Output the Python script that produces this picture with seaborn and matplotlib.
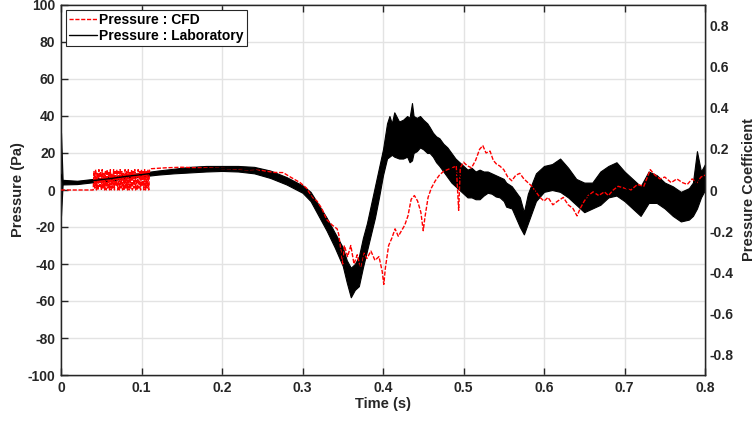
import numpy as np
import pandas as pd
import matplotlib
matplotlib.use("Agg")
import matplotlib.pyplot as plt
import seaborn as sns

# ---------------- data ----------------
# Laboratory pressure: noisy band, lower / upper envelope (Pa)
lab_t = [0.000, 0.002, 0.020, 0.040, 0.060, 0.080, 0.100, 0.120, 0.140, 0.160,
         0.180, 0.200, 0.220, 0.240, 0.260, 0.280, 0.300, 0.310, 0.320, 0.330,
         0.340, 0.350, 0.355, 0.360, 0.365, 0.370, 0.375, 0.380, 0.385, 0.390,
         0.395, 0.400, 0.405, 0.408, 0.411, 0.414, 0.420, 0.425, 0.430, 0.433,
         0.436, 0.438, 0.442, 0.446, 0.450, 0.455, 0.458, 0.462, 0.466, 0.470,
         0.475, 0.480, 0.485, 0.490, 0.495, 0.500, 0.505, 0.510, 0.515, 0.520,
         0.525, 0.530, 0.535, 0.540, 0.545, 0.550, 0.553, 0.560,
         0.570, 0.575, 0.580, 0.590, 0.600, 0.610, 0.620, 0.630, 0.640, 0.650,
         0.660, 0.670, 0.680, 0.690, 0.700, 0.710, 0.720, 0.730, 0.740, 0.750,
         0.760, 0.770, 0.780, 0.785, 0.790, 0.795, 0.800]
lab_lo = [-14, 3.0, 3.2, 4.2, 5.0, 6.3, 7.3, 8.3, 9.0, 9.5,
          10.0, 10.3, 10.0, 9.0, 6.5, 3.0, -1.5, -6, -14, -22,
          -31, -41, -50, -58, -54, -52, -42, -33, -24, -15,
          -4, 8, 17, 18, 19, 18, 17, 17, 18, 15,
          16, 20, 21, 23, 22, 20, 20, 18, 15, 13,
          10, 7, 4, 2, 0, -2, -4, -4, -5, -5,
          -3, -1.5, -2, -3.5, -4, -6, -9, -10,
          -20, -24, -18, -6, -1, 0, -1, -4, -8, -12,
          -10, -8, -4, -3, -6, -10, -14, -7, -7, -10,
          -14, -17, -16, -14, -10, -4, 0]
lab_hi = [31, 5.5, 5.0, 6.0, 7.2, 8.3, 9.3, 10.5, 11.5, 12.5,
          13.0, 13.0, 13.0, 12.5, 10.5, 7.0, 2.5, -1, -8, -15,
          -23, -31, -38, -42, -40, -36, -26, -18, -8, 2,
          12, 22, 36, 40, 36, 42, 37, 38, 40, 39,
          47, 40, 39, 40, 38, 36, 34, 31, 29, 28,
          25, 23, 20, 17, 15, 13, 11, 12, 10, 11,
          10, 10, 9, 8, 7, 6, 4, 2,
          -4, -12, -2, 9, 13, 14, 17, 12, 6, 4,
          4, 10, 13, 15, 10, 6, 2, 10, 8, 4,
          2, -1, 1, 4, 21, 10, 14]

# CFD pressure (Pa)
cfd_osc = [0, 10, 1, 11, 0, 9, 0, 11, 2, 10, 0, 11, 1, 9, 0, 10, 0, 11, 1, 10,
           0, 11, 0, 9, 1, 11, 0, 10, 2, 11, 0, 10, 0, 11, 1, 10, 0, 9, 0, 11,
           1, 10, 0, 11, 0, 10, 1, 11, 0, 10, 1, 11, 0, 9, 0, 11, 1, 10, 0, 11,
           2, 10, 0, 11, 0, 10, 1, 11, 0, 11]
cfd_osc_t = list(np.linspace(0.040, 0.110, len(cfd_osc)))
cfd_rest_t = [0.112, 0.130, 0.150, 0.170, 0.190, 0.210, 0.230, 0.250, 0.265, 0.276,
              0.285, 0.297, 0.305, 0.312, 0.318, 0.324, 0.330, 0.337, 0.343, 0.345,
              0.350, 0.352, 0.356, 0.360, 0.364, 0.368, 0.372, 0.376, 0.380, 0.385,
              0.390, 0.395, 0.399, 0.401, 0.403, 0.407, 0.411, 0.415, 0.419, 0.423,
              0.427, 0.431, 0.435, 0.439, 0.443, 0.447, 0.450, 0.452, 0.456, 0.460,
              0.465, 0.470, 0.475, 0.480, 0.486, 0.491, 0.494, 0.496, 0.500, 0.505,
              0.510, 0.515, 0.520, 0.524, 0.528, 0.533, 0.537, 0.541, 0.545, 0.550,
              0.555, 0.560, 0.565, 0.570, 0.575, 0.580, 0.585, 0.590, 0.595, 0.600,
              0.605, 0.611, 0.617, 0.624, 0.630, 0.636, 0.641, 0.645, 0.650, 0.655,
              0.661, 0.668, 0.675, 0.680, 0.686, 0.692, 0.700, 0.708, 0.716, 0.724,
              0.732, 0.738, 0.744, 0.750, 0.758, 0.765, 0.772, 0.778, 0.784, 0.790,
              0.795, 0.800]
cfd_rest = [11.5, 12, 12.3, 12, 11.8, 11.5, 11, 10.5, 9.5, 9.4,
            7, 4, 1, -4, -6, -10, -16, -19, -21, -24,
            -40, -30, -36, -30, -40, -35, -42, -34, -37, -33,
            -38, -36, -44, -51, -42, -30, -26, -21, -25, -22,
            -19, -14, -5, -3, -6, -12, -22, -15, -4, 1,
            5, 8, 10, 11, 12, 13, -11, 12, 15, 13,
            12, 16, 22, 24, 20, 21, 16, 14, 13, 11,
            7, 5, 8, 9, 6, 4, 2, -1, -4, -6,
            -4, -8, -6, -4, -8, -10, -14, -10, -6, -3,
            -1, -3, -1, -3, 0, 2, 1, 0, 3, 2,
            11, 8, 6, 7, 4, 6, 4, 3, 6, 4,
            7, 8]
cfd_t = [0.0] + cfd_osc_t + cfd_rest_t
cfd_p = [0.0] + cfd_osc + cfd_rest

x_ticks = [0, 0.1, 0.2, 0.3, 0.4, 0.5, 0.6, 0.7, 0.8]
x_labels = ["0", "0.1", "0.2", "0.3", "0.4", "0.5", "0.6", "0.7", "0.8"]
yl_ticks = [-100, -80, -60, -40, -20, 0, 20, 40, 60, 80, 100]
yr_ticks = [-0.8, -0.6, -0.4, -0.2, 0, 0.2, 0.4, 0.6, 0.8]
yr_labels = ["-0.8", "-0.6", "-0.4", "-0.2", "0", "0.2", "0.4", "0.6", "0.8"]

# ---------------- styling ----------------
sns.set_theme(style="whitegrid")
plt.rcParams["font.family"] = ["Liberation Sans", "DejaVu Sans"]
plt.rcParams["font.weight"] = "bold"
plt.rcParams["axes.unicode_minus"] = False
TXT = "#262626"

fig = plt.figure(figsize=(7.56, 4.23), dpi=100)
ax = fig.add_axes([61 / 756, 48 / 423, 644 / 756, 370 / 423])
ax.set_facecolor("white")

lab_df = pd.DataFrame({"t": lab_t + lab_t, "p": lab_lo + lab_hi})
cfd_df = pd.DataFrame({"t": cfd_t, "p": cfd_p})

sns.lineplot(data=cfd_df, x="t", y="p", ax=ax, color="#ff0000", lw=1.0,
             linestyle=(0, (3, 1.2)), estimator=None, sort=False,
             label="Pressure : CFD", zorder=3)
sns.lineplot(data=lab_df, x="t", y="p", ax=ax, color="black", lw=1.0,
             estimator="mean", errorbar=("pi", 100),
             err_kws={"alpha": 1.0, "linewidth": 0.8, "edgecolor": "black",
                      "facecolor": "black"},
             label="Pressure : Laboratory", zorder=4)

ax.set_xlim(0, 0.8)
ax.set_ylim(-100, 100)
ax.set_xticks(x_ticks)
ax.set_xticklabels(x_labels)
ax.set_yticks(yl_ticks)
ax.set_yticklabels([str(v) for v in yl_ticks])
ax.grid(True, color="#e3e3e3", lw=1.0)
ax.tick_params(axis="both", direction="in", length=5, width=1, colors=TXT,
               labelsize=10, top=True, bottom=True, left=True, right=False,
               labelcolor=TXT, pad=4)
for lab in ax.get_xticklabels() + ax.get_yticklabels():
    lab.set_fontweight("bold")
for s in ax.spines.values():
    s.set_color(TXT)
    s.set_linewidth(1.0)
ax.set_xlabel("Time (s)", fontsize=10.5, fontweight="bold", color=TXT, labelpad=2)
ax.set_ylabel("Pressure (Pa)", fontsize=10.5, fontweight="bold", color=TXT, labelpad=2)

ax2 = ax.twinx()
ax2.set_ylim(-0.9, 0.9)
ax2.set_yticks(yr_ticks)
ax2.set_yticklabels(yr_labels)
ax2.grid(False)
ax2.tick_params(axis="y", direction="in", length=5, width=1, colors=TXT,
                labelsize=10, right=True, left=False, labelcolor=TXT)
for lab in ax2.get_yticklabels():
    lab.set_fontweight("bold")
for s in ax2.spines.values():
    s.set_color(TXT)
    s.set_linewidth(1.0)
ax2.set_ylabel("Pressure Coefficient", fontsize=10.5, fontweight="bold",
               color=TXT, labelpad=6)

handles, labels = ax.get_legend_handles_labels()
leg = ax.legend(handles, labels, loc="upper left", bbox_to_anchor=(0.0, 1.0),
                fontsize=10, frameon=True, fancybox=False, edgecolor=TXT,
                framealpha=1, borderpad=0.25, labelspacing=0.1,
                handlelength=2.0, handletextpad=0.15, borderaxespad=0.35)
leg.get_frame().set_linewidth(0.8)
for t in leg.get_texts():
    t.set_fontweight("bold")
    t.set_color("black")
ax.set_zorder(ax2.get_zorder() + 1)
ax.patch.set_visible(True)
ax2.patch.set_visible(False)

fig.savefig("out.png", dpi=100)
